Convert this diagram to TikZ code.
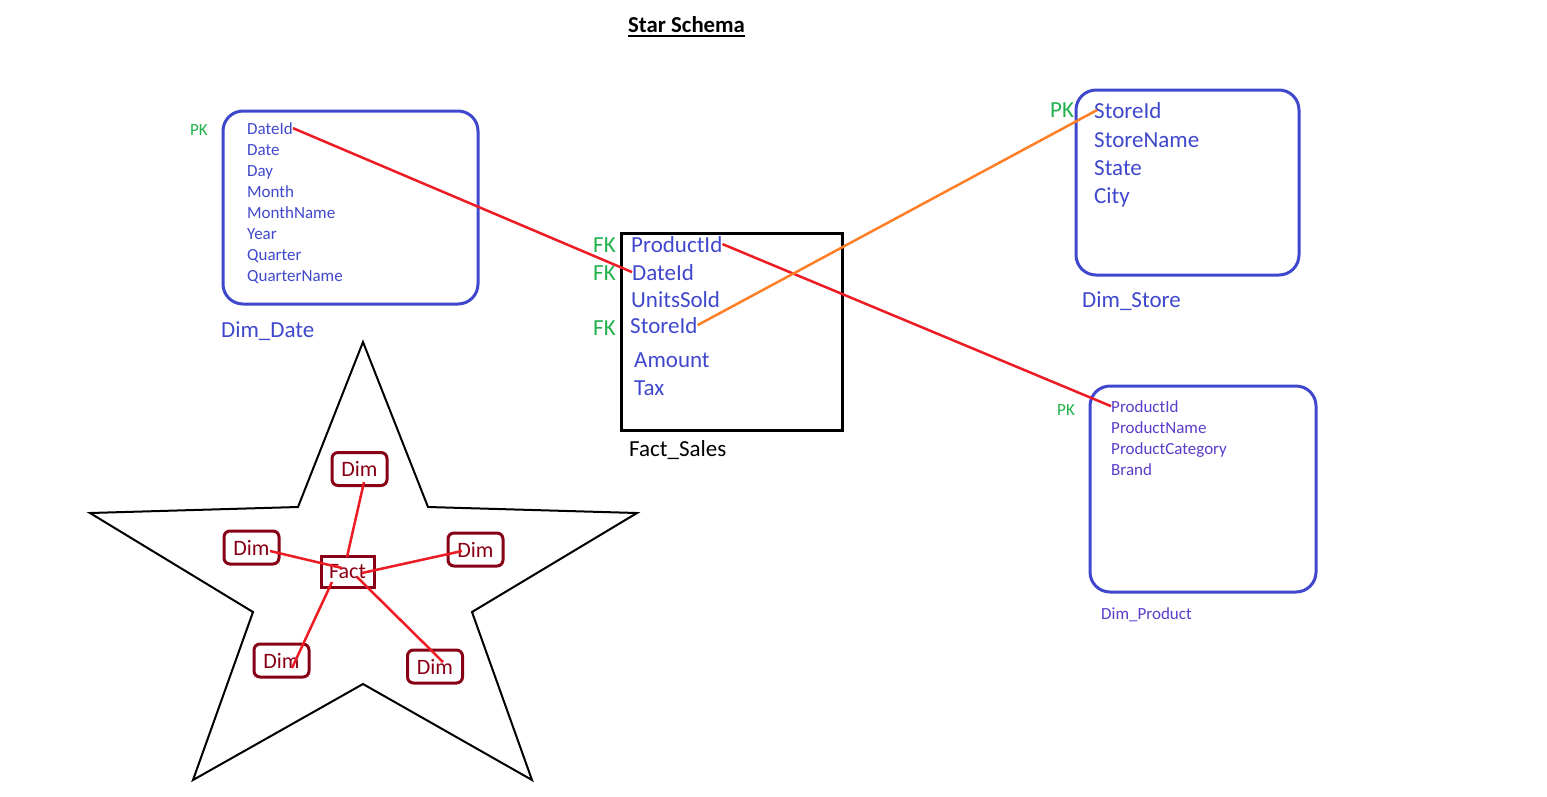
\documentclass[tikz,border=0pt]{standalone}
\usepackage{fontspec}
\setmainfont{Carlito}
\usetikzlibrary{calc}
\definecolor{tblue}{HTML}{3F48CC}
\definecolor{tviolet}{HTML}{5A3CCB}
\definecolor{tgreen}{HTML}{22B14C}
\definecolor{tred}{HTML}{ED1C24}
\definecolor{torange}{HTML}{FF7F27}
\definecolor{tdark}{HTML}{880015}
\begin{document}
\begin{tikzpicture}[x=1pt,y=-1pt,
  small/.style={font=\fontsize{17}{20}\selectfont, text=tblue, inner sep=0pt, anchor=base west},
  large/.style={font=\fontsize{23}{27}\selectfont, text=tblue, inner sep=0pt, anchor=base west},
  pks/.style={font=\fontsize{17}{20}\selectfont, text=tgreen, inner sep=0pt, anchor=base west},
  pkl/.style={font=\fontsize{23}{27}\selectfont, text=tgreen, inner sep=0pt, anchor=base west},
  tbox/.style={draw=tblue, line width=3pt, rounded corners=20pt, inner sep=0pt},
  dimbox/.style={draw=tdark, line width=3pt, rounded corners=6pt, minimum width=55pt, minimum height=33pt, inner sep=0pt, text=tdark, font=\fontsize{22}{25}\selectfont},
  link/.style={draw=tred, line width=2.5pt},
]
\useasboundingbox (0,0) rectangle (1547,796);
% title
\node[font=\bfseries\fontsize{22.8}{26}\selectfont, inner sep=0pt, anchor=base west] (title) at (628,32) {Star Schema};
\draw[line width=2pt] ($(title.base west)+(0,4)$) -- ($(title.base east)+(0,4)$);

% Dim_Date
\node[tbox, minimum width=255pt, minimum height=193pt] (ddbox) at (350.5,207.5) {};
\node[pks] (ddpk) at (190,135) {PK};
\node[small] (dd1) at (247,134) {DateId};
\node[small] (dd2) at (247,155) {Date};
\node[small] (dd3) at (247,176) {Day};
\node[small] (dd4) at (247,197) {Month};
\node[small] (dd5) at (247,218) {MonthName};
\node[small] (dd6) at (247,239) {Year};
\node[small] (dd7) at (247,260) {Quarter};
\node[small] (dd8) at (247,281) {QuarterName};
\node[large] (ddlab) at (221,337) {Dim\_Date};

% Fact_Sales
\node[draw=black, line width=3pt, minimum width=221pt, minimum height=197pt, inner sep=0pt] (fsbox) at (731.5,331.5) {};
\node[pkl] (fk1) at (593,252) {FK};
\node[pkl] (fk2) at (593,280) {FK};
\node[pkl] (fk3) at (593,335) {FK};
\node[large] (fs1) at (631,252) {ProductId};
\node[large] (fs2) at (632,280) {DateId};
\node[large] (fs3) at (631,307) {UnitsSold};
\node[large] (fs4) at (630,333) {StoreId};
\node[large] (fs5) at (634,367) {Amount};
\node[large] (fs6) at (634,395) {Tax};
\node[large, text=black] (fslab) at (629,456) {Fact\_Sales};

% Dim_Store
\node[tbox, minimum width=223pt, minimum height=185pt] (dsbox) at (1187.5,182.5) {};
\node[pkl] (dspk) at (1050,117) {PK};
\node[large] (ds1) at (1094,118) {StoreId};
\node[large] (ds2) at (1094,147) {StoreName};
\node[large] (ds3) at (1094,175) {State};
\node[large] (ds4) at (1094,203) {City};
\node[large] (dslab) at (1082,307) {Dim\_Store};

% Dim_Product
\node[tbox, minimum width=226pt, minimum height=206pt] (dpbox) at (1203,489) {};
\node[pks] (dppk) at (1057,415) {PK};
\node[small, text=tviolet] (dp1) at (1111,412) {ProductId};
\node[small, text=tviolet] (dp2) at (1111,433) {ProductName};
\node[small, text=tviolet] (dp3) at (1111,454) {ProductCategory};
\node[small, text=tviolet] (dp4) at (1111,475) {Brand};
\node[small, text=tviolet] (dplab) at (1101,619) {Dim\_Product};

% connectors
\draw[link] (dd1.east) -- (fs2.west);
\draw[link] (fs1.east) -- (dp1.west);
\draw[draw=torange, line width=2.5pt] (fs4.east) -- ($(ds1.west)+(3,0)$);

% star
\draw[line width=2pt, line join=miter] (363,342) -- (428,507) -- (637,513) -- (472,612) -- (532,780) -- (363,684) -- (193,780) -- (253,612) -- (90,513) -- (298,507) -- cycle;
\node[draw=tdark, line width=3pt, minimum width=53pt, minimum height=31pt, inner sep=0pt, text=tdark, font=\fontsize{22}{25}\selectfont] (fact) at (347.5,571.5) {Fact};
\node[dimbox] (d1) at (359.5,469) {Dim};
\node[dimbox] (d2) at (251.5,547.5) {Dim};
\node[dimbox] (d3) at (475.5,549.5) {Dim};
\node[dimbox] (d4) at (281.5,660.5) {Dim};
\node[dimbox] (d5) at (435,666.5) {Dim};
\draw[link] ($(d1.center)+(4.5,13)$) -- ($(fact.center)+(-0.5,-14.5)$);
\draw[link] ($(d2.center)+(18.5,3.5)$) -- ($(fact.center)+(-5.5,-3.5)$);
\draw[link] ($(d3.center)+(-13.5,1.5)$) -- ($(fact.center)+(14.5,1.5)$);
\draw[link] ($(fact.center)+(-15.5,10.5)$) -- ($(d4.center)+(10.5,7.5)$);
\draw[link] ($(fact.center)+(9.5,5.5)$) -- ($(d5.center)+(8,-4.5)$);
\end{tikzpicture}
\end{document}
